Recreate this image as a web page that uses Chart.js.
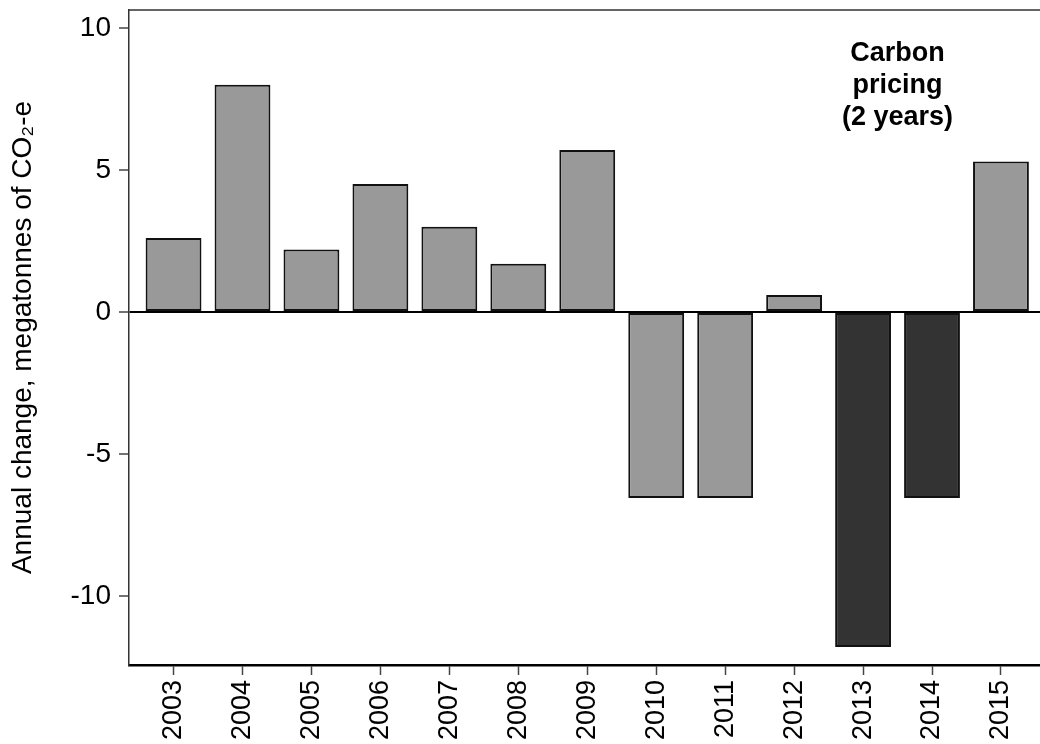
<!DOCTYPE html>
<html>
<head>
<meta charset="utf-8">
<script src="https://cdn.jsdelivr.net/npm/chart.js@4.4.1/dist/chart.umd.min.js"></script>
<style>
  html, body { margin: 0; padding: 0; background: #fff; overflow: hidden; }
  #wrap { width: 1048px; height: 744px; }
</style>
</head>
<body>
<div id="wrap"><canvas id="emissionsChart"></canvas></div>
<script>
// Data
const years = [2003, 2004, 2005, 2006, 2007, 2008, 2009, 2010, 2011, 2012, 2013, 2014, 2015];
const changes = [2.6, 8.0, 2.2, 4.5, 3.0, 1.7, 5.7, -6.55, -6.55, 0.6, -11.8, -6.55, 5.3];
const pricedYears = [2013, 2014];
const yTicks = [-10, -5, 0, 5, 10];
const yTitle = 'Annual change, megatonnes of CO\u2082-e';
const noteLines = ['Carbon', 'pricing', '(2 years)'];
const noteX = 2013.5;
const noteY = 9.1;

const fontFamily = '"Liberation Sans", Arial, sans-serif';

// frame on top/right and the carbon pricing note
const framePlugin = {
    id: 'frame',
    afterDatasetsDraw(chart) {
        const { ctx, chartArea, scales } = chart;
        ctx.save();
        ctx.strokeStyle = '#333';
        ctx.lineWidth = 1.5;
        ctx.beginPath();
        ctx.moveTo(chartArea.left, chartArea.top);
        ctx.lineTo(chartArea.right, chartArea.top);
        ctx.lineTo(chartArea.right, chartArea.bottom);
        ctx.stroke();

        ctx.fillStyle = '#000';
        ctx.font = 'bold 27px ' + fontFamily;
        ctx.textAlign = 'center';
        ctx.textBaseline = 'middle';
        const x = scales.x.getPixelForValue(noteX);
        const y0 = scales.y.getPixelForValue(noteY);
        noteLines.forEach((line, i) => ctx.fillText(line, x, y0 + i * 32));
        ctx.restore();
    }
};

// drop the extra room Chart.js keeps for edge labels
const noEdgePadding = scale => {
    scale.paddingTop = 0;
    scale.paddingBottom = 0;
    scale.paddingLeft = 0;
    scale.paddingRight = 0;
};

const ctx = document.getElementById('emissionsChart').getContext('2d');
new Chart(ctx, {
    type: 'bar',
    data: {
        datasets: [{
            data: years.map((yr, i) => ({ x: yr, y: changes[i] })),
            backgroundColor: years.map(yr => pricedYears.includes(yr) ? '#333333' : '#999999'),
            borderColor: '#111',
            borderWidth: 2,
            borderSkipped: false,
            barPercentage: 0.81,
            categoryPercentage: 1.0
        }]
    },
    options: {
        responsive: true,
        maintainAspectRatio: false,
        animation: false,
        layout: { padding: { top: 10, left: 0, right: 2.5, bottom: 0 } },
        plugins: {
            legend: { display: false },
            tooltip: { enabled: false }
        },
        scales: {
            x: {
                type: 'linear',
                offset: false,
                min: 2002.354,
                max: 2015.646,
                afterBuildTicks: scale => { scale.ticks = years.map(v => ({ value: v })); },
                afterFit: scale => { scale.height = 79; noEdgePadding(scale); },
                border: { display: true, color: '#000', width: 2.5 },
                grid: {
                    offset: false,
                    color: 'transparent',
                    drawOnChartArea: false,
                    drawTicks: true,
                    tickLength: 10,
                    tickColor: '#444',
                    tickWidth: 1.5
                },
                ticks: {
                    autoSkip: false,
                    maxRotation: 90,
                    minRotation: 90,
                    padding: 5,
                    color: '#000',
                    font: { family: fontFamily, size: 27 },
                    callback: v => String(v)
                }
            },
            y: {
                min: -12.43,
                max: 10.63,
                afterBuildTicks: scale => { scale.ticks = yTicks.map(v => ({ value: v })); },
                afterFit: scale => { scale.width = 129; noEdgePadding(scale); },
                border: { display: true, color: '#333', width: 1.5 },
                grid: {
                    color: c => (c.tick && c.tick.value === 0) ? '#000' : 'transparent',
                    lineWidth: 2,
                    drawTicks: true,
                    tickLength: 10,
                    tickColor: '#444',
                    tickWidth: 1.5
                },
                ticks: {
                    padding: 8,
                    color: '#000',
                    font: { family: fontFamily, size: 28 }
                },
                title: {
                    display: true,
                    text: yTitle,
                    color: '#000',
                    padding: { top: 6, bottom: 0 },
                    font: { family: fontFamily, size: 28 }
                }
            }
        }
    },
    plugins: [framePlugin]
});
</script>
</body>
</html>
